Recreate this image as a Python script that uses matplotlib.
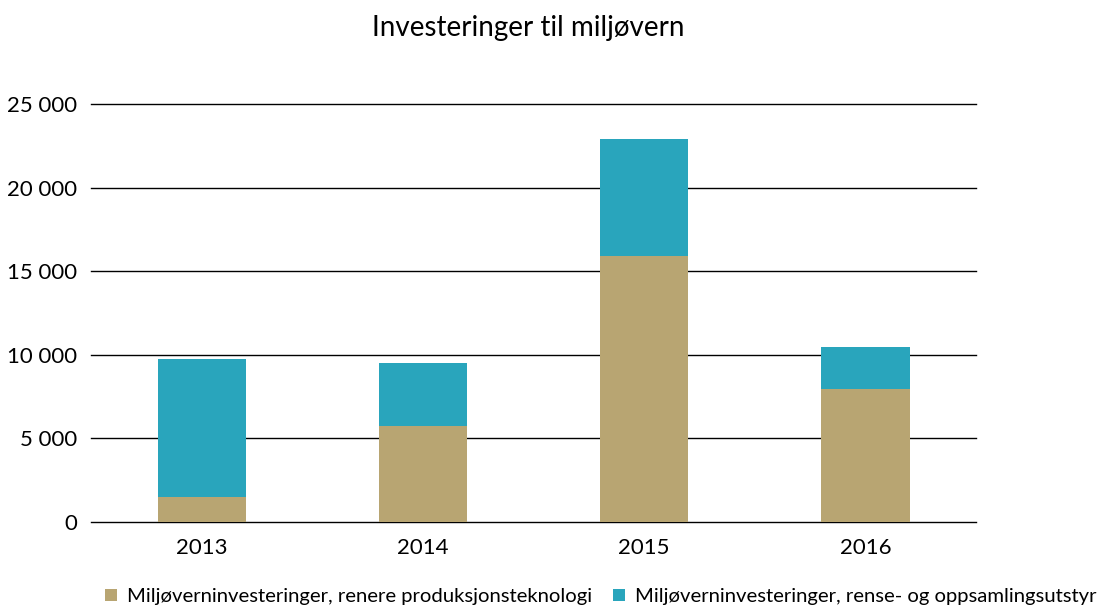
import matplotlib
matplotlib.use("Agg")
import matplotlib.pyplot as plt
from matplotlib.ticker import FuncFormatter

years = ["2013", "2014", "2015", "2016"]
renere = [1500, 5760, 15890, 7970]
rense = [8270, 3770, 7010, 2470]

label_renere = "Miljøverninvesteringer, renere produksjonsteknologi"
label_rense = "Miljøverninvesteringer, rense- og oppsamlingsutstyr"

plt.rcParams["font.family"] = ["Lato", "DejaVu Sans"]

fig = plt.figure(figsize=(10.99, 6.06), dpi=100)
ax = fig.add_axes([0.083, 0.139, 0.805, 0.689])

x = list(range(len(years)))
ax.bar(x, renere, width=0.4, color="#B8A572", label=label_renere, zorder=3)
ax.bar(x, rense, width=0.4, bottom=renere, color="#29A5BC", label=label_rense, zorder=3)

ax.set_xlim(-0.5, len(years) - 0.5)
ax.set_ylim(0, 25000)
ax.set_yticks(range(0, 25001, 5000))
ax.yaxis.set_major_formatter(FuncFormatter(lambda v, p: f"{int(v):,}".replace(",", " ")))
ax.set_xticks(x)
ax.set_xticklabels(years)
for yv in range(0, 25001, 5000):
    ax.axhline(yv, color="black", linewidth=1, zorder=1, clip_on=False)
for s in ax.spines.values():
    s.set_visible(False)
ax.tick_params(axis="both", length=0, labelsize=16, pad=10)
ax.tick_params(axis="x", pad=12)

fig.suptitle("Investeringer til miljøvern", x=0.481, y=0.975, fontsize=20)
fig.legend(loc="lower left", bbox_to_anchor=(0.088, -0.012), ncol=2, frameon=False,
           fontsize=14.6, handlelength=0.6, handleheight=0.6, handletextpad=0.5,
           columnspacing=1.0, borderaxespad=0)

fig.savefig("out.png", dpi=100)
